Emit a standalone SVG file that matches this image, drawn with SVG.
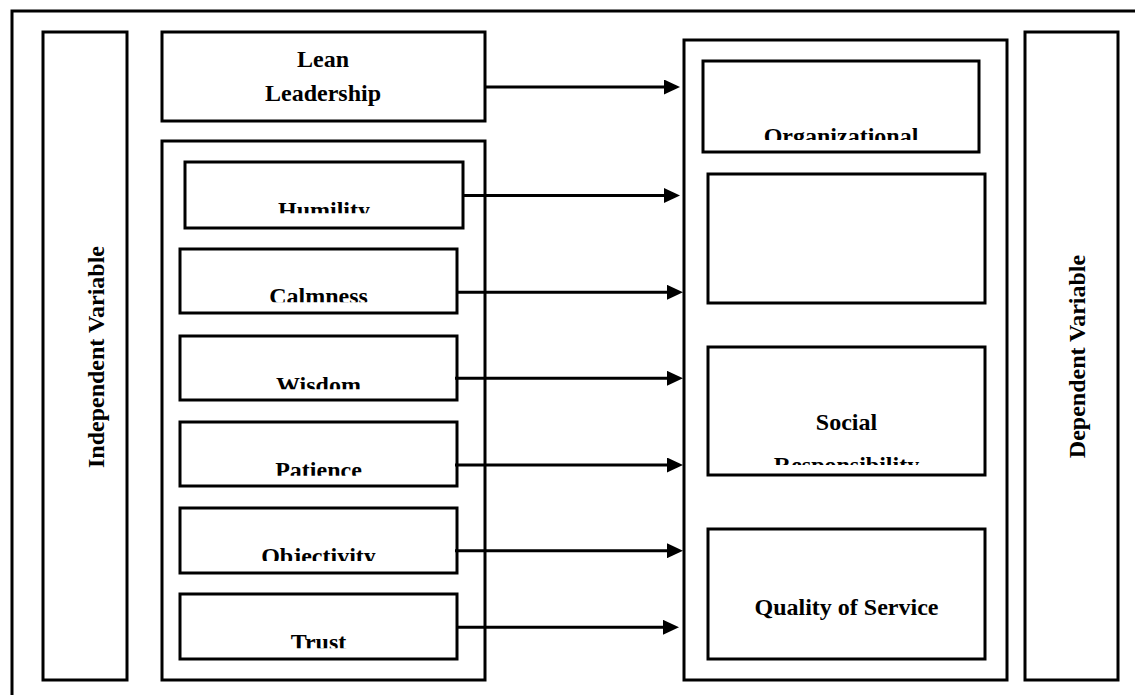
<svg xmlns="http://www.w3.org/2000/svg" width="1135" height="695" viewBox="0 0 1135 695">
<style>
.box{fill:#fff;stroke:#000;stroke-width:3}
.frame{fill:none;stroke:#000;stroke-width:3}
.t{font-family:"Liberation Serif","Times New Roman",serif;font-weight:bold;font-size:24px;fill:#000;text-anchor:middle}
.c{fill:none;stroke:#000;stroke-width:3}
</style>
<defs>
<marker id="ah" markerUnits="userSpaceOnUse" markerWidth="16" markerHeight="15" refX="2" refY="7.5" orient="auto">
<path d="M0,0 L16,7.5 L0,15 Z" fill="#000"/>
</marker>
<clipPath id="cpHum"><rect x="185" y="162" width="278" height="51.3"/></clipPath>
<clipPath id="cpCal"><rect x="180" y="249" width="277" height="53.3"/></clipPath>
<clipPath id="cpWis"><rect x="180" y="336" width="277" height="53.3"/></clipPath>
<clipPath id="cpPat"><rect x="180" y="422" width="277" height="53.7"/></clipPath>
<clipPath id="cpObj"><rect x="180" y="508" width="277" height="53"/></clipPath>
<clipPath id="cpTru"><rect x="180" y="594" width="277" height="54.3"/></clipPath>
<clipPath id="cpOrg"><rect x="703" y="61" width="276" height="79"/></clipPath>
<clipPath id="cpRes"><rect x="708" y="440" width="277" height="25"/></clipPath>
</defs>
<rect class="frame" x="12" y="11" width="1140" height="700"/>
<g id="independent-variable">
<rect class="box" x="43" y="32" width="84" height="648"/>
<text class="t" transform="translate(104,357) rotate(-90)">Independent Variable</text>
</g>
<g id="lean-leadership">
<rect class="box" x="162" y="32" width="323" height="89"/>
<text class="t" x="323" y="67">Lean</text>
<text class="t" x="323" y="101">Leadership</text>
</g>
<g id="dimensions">
<rect class="box" x="162" y="141" width="323" height="539"/>
</g>
<g id="humility">
<rect class="box" x="185" y="162" width="278" height="66"/>
<text class="t" x="324" y="218" clip-path="url(#cpHum)">Humility</text>
</g>
<g id="calmness">
<rect class="box" x="180" y="249" width="277" height="64"/>
<text class="t" x="318.5" y="304" clip-path="url(#cpCal)">Calmness</text>
</g>
<g id="wisdom">
<rect class="box" x="180" y="336" width="277" height="64"/>
<text class="t" x="318.5" y="392.6" clip-path="url(#cpWis)">Wisdom</text>
</g>
<g id="patience">
<rect class="box" x="180" y="422" width="277" height="64"/>
<text class="t" x="318.5" y="477.6" clip-path="url(#cpPat)">Patience</text>
</g>
<g id="objectivity">
<rect class="box" x="180" y="508" width="277" height="65"/>
<text class="t" x="318.5" y="564" clip-path="url(#cpObj)">Objectivity</text>
</g>
<g id="trust">
<rect class="box" x="180" y="594" width="277" height="65"/>
<text class="t" x="318.5" y="650" clip-path="url(#cpTru)">Trust</text>
</g>
<g id="outcomes">
<rect class="box" x="684" y="40" width="323" height="640"/>
</g>
<g id="organizational">
<rect class="box" x="703" y="61" width="276" height="91"/>
<text class="t" x="841" y="144" clip-path="url(#cpOrg)">Organizational</text>
</g>
<g id="empty-box">
<rect class="box" x="708" y="174" width="277" height="129"/>
</g>
<g id="social-responsibility">
<rect class="box" x="708" y="347" width="277" height="128"/>
<text class="t" x="846.5" y="430">Social</text>
<text class="t" x="846.5" y="472.6" clip-path="url(#cpRes)">Responsibility</text>
</g>
<g id="quality-of-service">
<rect class="box" x="708" y="529" width="277" height="130"/>
<text class="t" x="846.5" y="615">Quality of Service</text>
</g>
<g id="dependent-variable">
<rect class="box" x="1025" y="32" width="93" height="648"/>
<text class="t" transform="translate(1085,356.5) rotate(-90)">Dependent Variable</text>
</g>
<g id="connectors">
<path class="c" d="M485,87 L666,87" marker-end="url(#ah)"/>
<path class="c" d="M463,195.5 L666,195.5" marker-end="url(#ah)"/>
<path class="c" d="M457,292.3 L669,292.3" marker-end="url(#ah)"/>
<path class="c" d="M455,378.3 L669,378.3" marker-end="url(#ah)"/>
<path class="c" d="M455,465 L669,465" marker-end="url(#ah)"/>
<path class="c" d="M455,550.7 L669,550.7" marker-end="url(#ah)"/>
<path class="c" d="M457,627.3 L665,627.3" marker-end="url(#ah)"/>
</g>
</svg>
